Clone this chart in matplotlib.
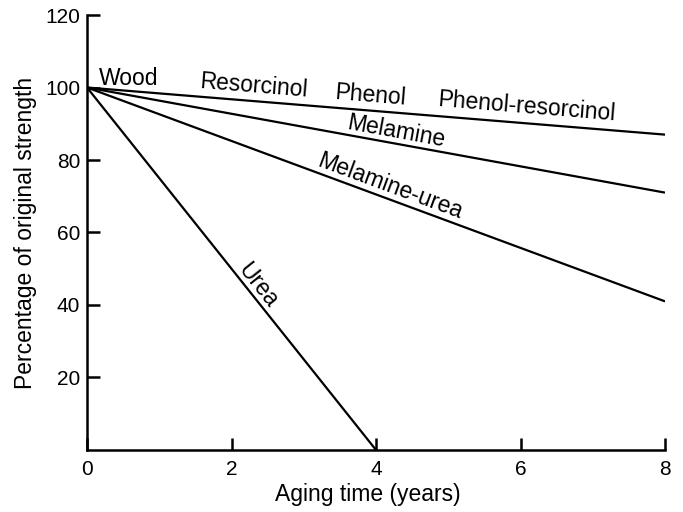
import numpy as np
import matplotlib
matplotlib.use("Agg")
import matplotlib.pyplot as plt

plt.rcParams['font.family'] = ['Liberation Sans', 'DejaVu Sans']

# strength retained (%) versus aging time (years) for each adhesive
years_end = [8, 8, 8, 4]
strength_end = [87, 71, 41, 0]
series = ['Phenol-resorcinol', 'Melamine', 'Melamine-urea', 'Urea']

# label text, anchor point and the line each label follows
labels = ['Wood', 'Resorcinol', 'Phenol', 'Phenol-resorcinol',
          'Melamine', 'Melamine-urea', 'Urea']
label_x = [0.58, 2.30, 3.92, 6.08, 4.28, 4.19, 2.36]
label_y = [102.6, 100.4, 97.8, 94.8, 87.8, 72.8, 45.3]
label_line = [None, 0, 0, 0, 1, 2, 3]

fig = plt.figure(figsize=(6.83, 5.12), dpi=100)
ax = fig.add_axes([0.1274, 0.1211, 0.8463, 0.8496])

for xe, ye in zip(years_end, strength_end):
    ax.plot([0, xe], [100, ye], color='black', lw=1.6, solid_capstyle='butt')

for txt, x, y, k in zip(labels, label_x, label_y, label_line):
    ang = 0
    if k is not None:
        ang = np.degrees(np.arctan2(strength_end[k] - 100, years_end[k]))
    ax.text(x, y, txt, fontsize=16.5, ha='center', va='center',
            rotation=ang, rotation_mode='anchor', transform_rotates_text=True)

ax.set_xlim(0, 8)
ax.set_ylim(0, 120)
ax.set_xticks([0, 2, 4, 6, 8])
ax.set_yticks([20, 40, 60, 80, 100, 120])
ax.tick_params(axis='x', direction='in', length=9, width=1.8, labelsize=15, pad=7)
ax.tick_params(axis='y', direction='in', length=9, width=1.8, labelsize=15, pad=5)
for s in ['top', 'right']:
    ax.spines[s].set_visible(False)
for s in ['left', 'bottom']:
    ax.spines[s].set_linewidth(1.8)
ax.set_xlabel('Aging time (years)', fontsize=16.5, labelpad=2)
ax.xaxis.set_label_coords(0.486, -0.075)
ax.set_ylabel('Percentage of original strength', fontsize=16.5, labelpad=6)

fig.savefig('out.png', dpi=100)
